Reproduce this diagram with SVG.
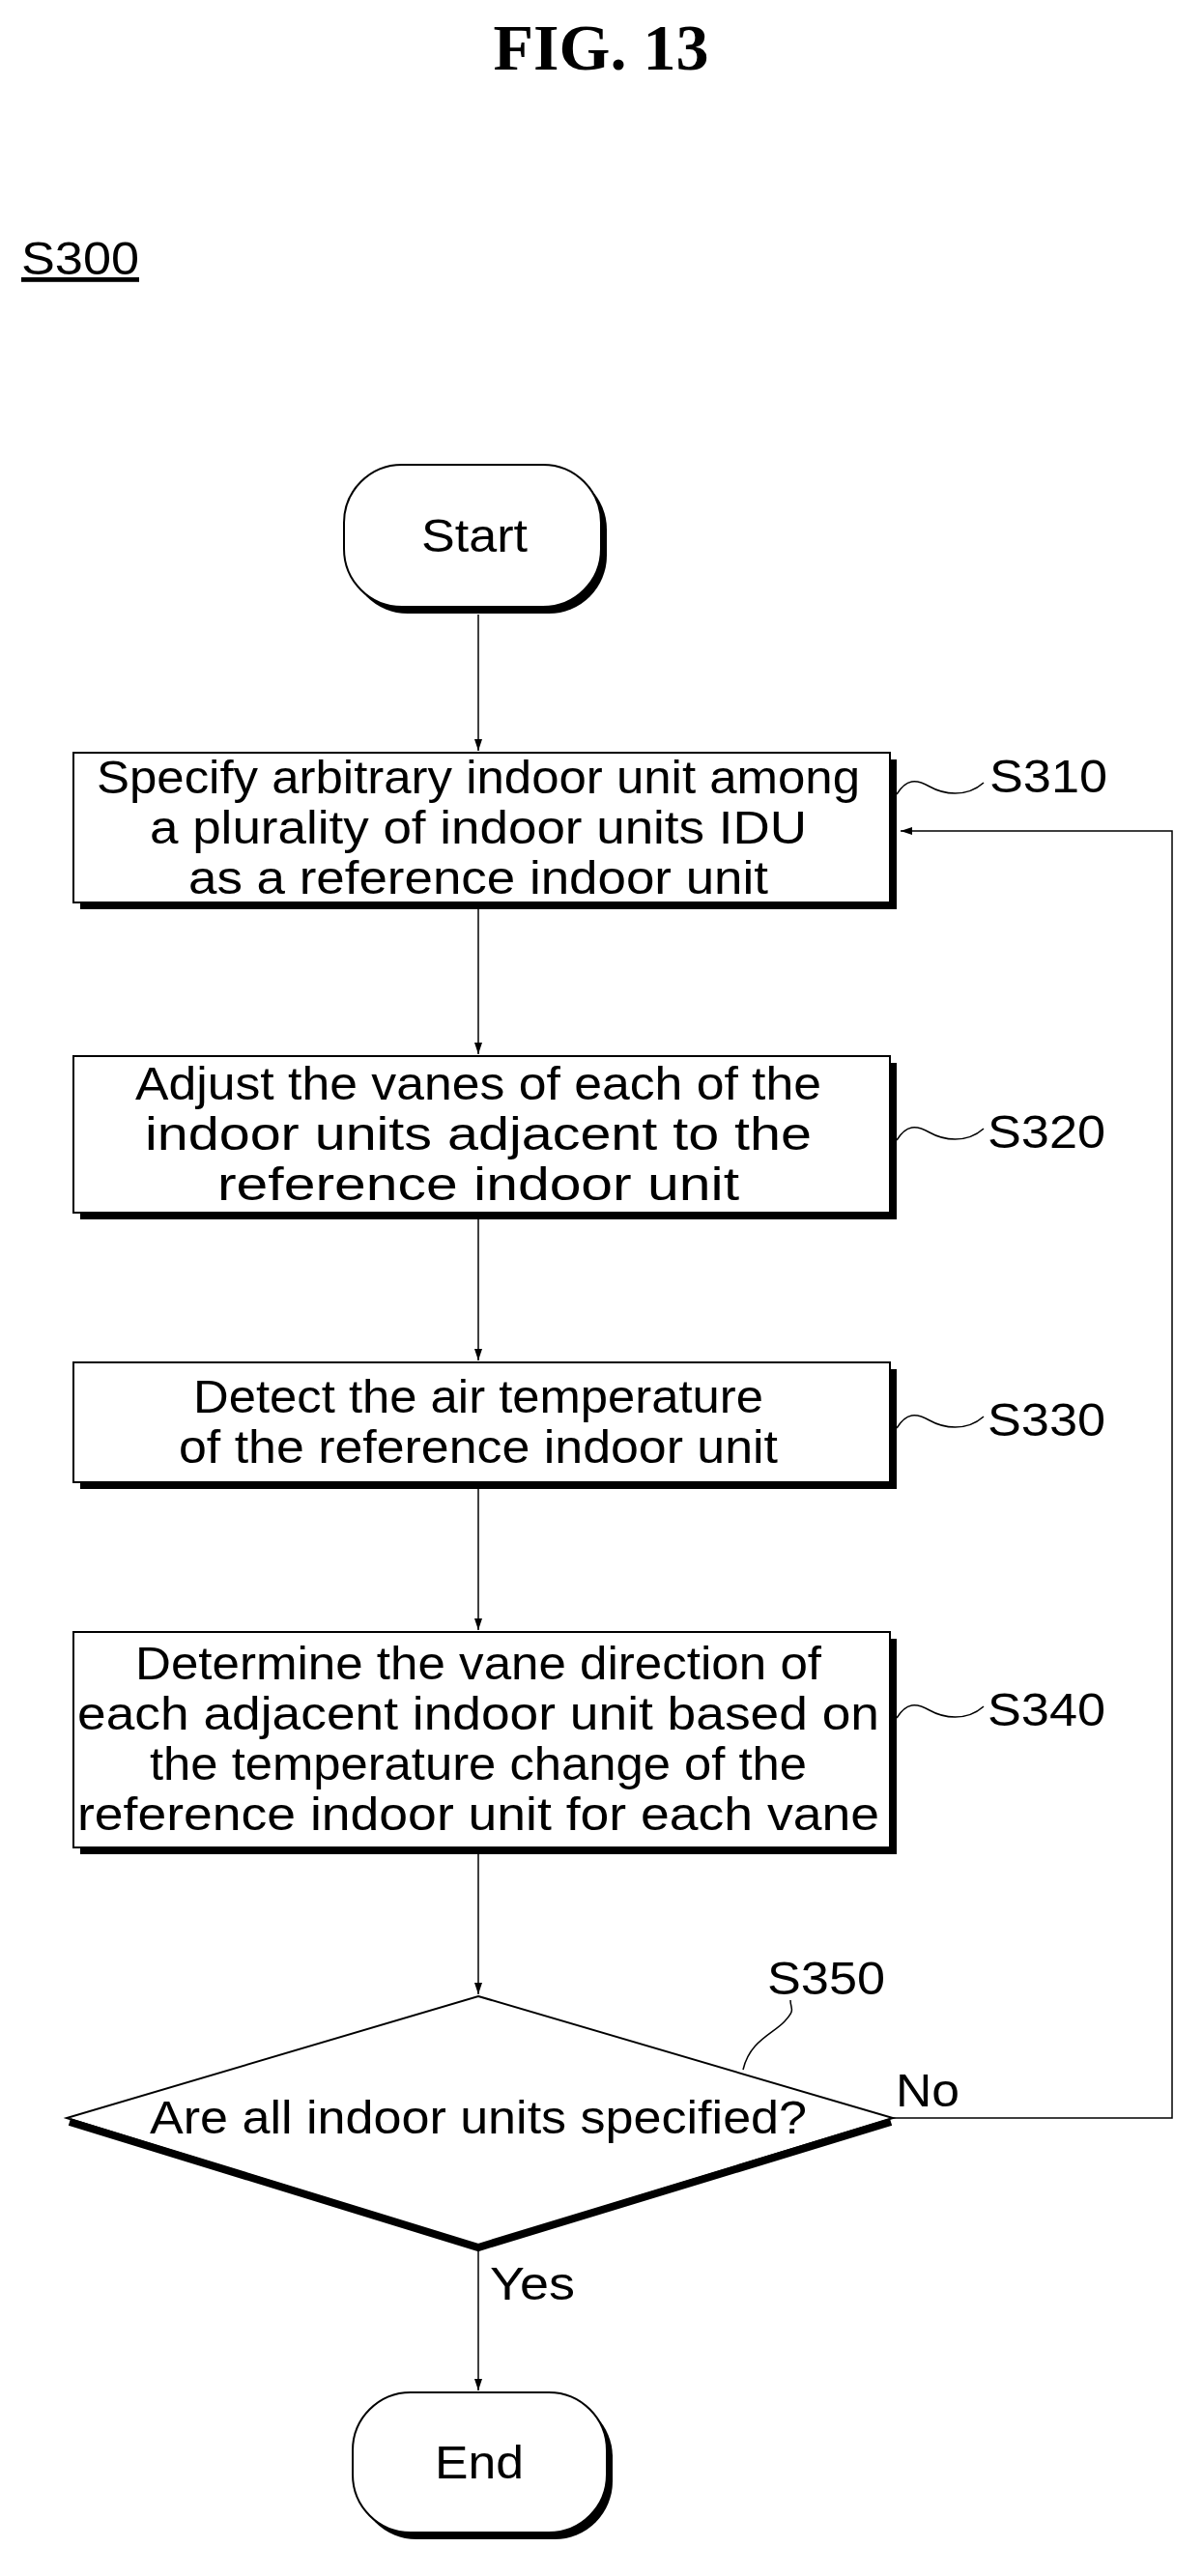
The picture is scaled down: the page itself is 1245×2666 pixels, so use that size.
<svg xmlns="http://www.w3.org/2000/svg" width="1245" height="2666" viewBox="0 0 1245 2666">
<defs>
<marker id="ah" markerWidth="12" markerHeight="24" refX="12" refY="6" orient="auto" markerUnits="userSpaceOnUse" viewBox="0 0 12 12"><path d="M0,2 L12,6 L0,10 Z" fill="#000"/></marker>
<style>
.t{font-family:"Liberation Sans",Arial,sans-serif;font-size:48px;fill:#000;text-anchor:middle}
.l{font-family:"Liberation Sans",Arial,sans-serif;font-size:48px;fill:#000}
.box{fill:#fff;stroke:#000;stroke-width:2}
.sh{fill:#000}
.c{fill:none;stroke:#000;stroke-width:1.5}
</style>
</defs>
<rect width="1245" height="2666" fill="#fff"/>
<text x="622" y="72" font-family="Liberation Serif,serif" font-weight="bold" font-size="68" text-anchor="middle">FIG. 13</text>
<text class="l" x="22" y="284" textLength="122" lengthAdjust="spacingAndGlyphs" text-decoration="underline">S300</text>
<g id="connectors">
<line class="c" x1="495" y1="636" x2="495" y2="777" marker-end="url(#ah)"/>
<line class="c" x1="495" y1="940" x2="495" y2="1091" marker-end="url(#ah)"/>
<line class="c" x1="495" y1="1261" x2="495" y2="1408" marker-end="url(#ah)"/>
<line class="c" x1="495" y1="1540" x2="495" y2="1687" marker-end="url(#ah)"/>
<line class="c" x1="495" y1="1918" x2="495" y2="2064" marker-end="url(#ah)"/>
<line class="c" x1="495" y1="2330" x2="495" y2="2474" marker-end="url(#ah)"/>
<polyline class="c" points="924,2192 1213,2192 1213,860 932,860" marker-end="url(#ah)"/>
<path class="c" d="M928,822 C938,806 948,806 962,814 S1000,826 1018,810"/>
<path class="c" d="M769,2142 C776,2112 800,2105 812,2092 S818,2080 818,2070"/>
<text class="l" x="927" y="2180" textLength="66" lengthAdjust="spacingAndGlyphs">No</text>
<text class="l" x="507" y="2380" textLength="88" lengthAdjust="spacingAndGlyphs">Yes</text>
</g>
<g id="start">
<rect class="sh" x="362" y="488" width="266" height="147" rx="60"/>
<rect class="box" x="356" y="481" width="266" height="147" rx="60"/>
<text class="t" x="491" y="571" textLength="110" lengthAdjust="spacingAndGlyphs">Start</text>
</g>
<g id="s310">
<rect class="sh" x="83" y="786" width="845" height="155"/>
<rect class="box" x="76" y="779" width="845" height="155"/>
<text class="t" x="495" y="821" textLength="790" lengthAdjust="spacingAndGlyphs">Specify arbitrary indoor unit among</text>
<text class="t" x="495" y="873" textLength="680" lengthAdjust="spacingAndGlyphs">a plurality of indoor units IDU</text>
<text class="t" x="495" y="925" textLength="600" lengthAdjust="spacingAndGlyphs">as a reference indoor unit</text>
<text class="l" x="1024" y="820" textLength="122" lengthAdjust="spacingAndGlyphs">S310</text>
</g>
<g id="s320">
<rect class="sh" x="83" y="1100" width="845" height="162"/>
<rect class="box" x="76" y="1093" width="845" height="162"/>
<text class="t" x="495" y="1138" textLength="710" lengthAdjust="spacingAndGlyphs">Adjust the vanes of each of the</text>
<text class="t" x="495" y="1190" textLength="690" lengthAdjust="spacingAndGlyphs">indoor units adjacent to the</text>
<text class="t" x="495" y="1242" textLength="540" lengthAdjust="spacingAndGlyphs">reference indoor unit</text>
<path class="c" d="M928,1180 C938,1164 948,1164 962,1172 S1000,1184 1018,1168"/>
<text class="l" x="1022" y="1188" textLength="122" lengthAdjust="spacingAndGlyphs">S320</text>
</g>
<g id="s330">
<rect class="sh" x="83" y="1417" width="845" height="124"/>
<rect class="box" x="76" y="1410" width="845" height="124"/>
<text class="t" x="495" y="1462" textLength="590" lengthAdjust="spacingAndGlyphs">Detect the air temperature</text>
<text class="t" x="495" y="1514" textLength="620" lengthAdjust="spacingAndGlyphs">of the reference indoor unit</text>
<path class="c" d="M928,1478 C938,1462 948,1462 962,1470 S1000,1482 1018,1466"/>
<text class="l" x="1022" y="1486" textLength="122" lengthAdjust="spacingAndGlyphs">S330</text>
</g>
<g id="s340">
<rect class="sh" x="83" y="1696" width="845" height="223"/>
<rect class="box" x="76" y="1689" width="845" height="223"/>
<text class="t" x="495" y="1738" textLength="710" lengthAdjust="spacingAndGlyphs">Determine the vane direction of</text>
<text class="t" x="495" y="1790" textLength="830" lengthAdjust="spacingAndGlyphs">each adjacent indoor unit based on</text>
<text class="t" x="495" y="1842" textLength="680" lengthAdjust="spacingAndGlyphs">the temperature change of the</text>
<text class="t" x="495" y="1894" textLength="830" lengthAdjust="spacingAndGlyphs">reference indoor unit for each vane</text>
<path class="c" d="M928,1778 C938,1762 948,1762 962,1770 S1000,1782 1018,1766"/>
<text class="l" x="1022" y="1786" textLength="122" lengthAdjust="spacingAndGlyphs">S340</text>
</g>
<g id="s350">
<polygon points="495,2066 924,2192 495,2324 69,2192" fill="#fff" stroke="#000" stroke-width="2"/>
<polyline points="72,2196 495,2326 922,2196" fill="none" stroke="#000" stroke-width="8"/>
<text class="t" x="495" y="2208" textLength="680" lengthAdjust="spacingAndGlyphs">Are all indoor units specified?</text>
<text class="l" x="794" y="2064" textLength="122" lengthAdjust="spacingAndGlyphs">S350</text>
</g>
<g id="end">
<rect class="sh" x="371" y="2483" width="263" height="145" rx="60"/>
<rect class="box" x="365" y="2476" width="263" height="145" rx="60"/>
<text class="t" x="496" y="2565" textLength="92" lengthAdjust="spacingAndGlyphs">End</text>
</g>
</svg>
